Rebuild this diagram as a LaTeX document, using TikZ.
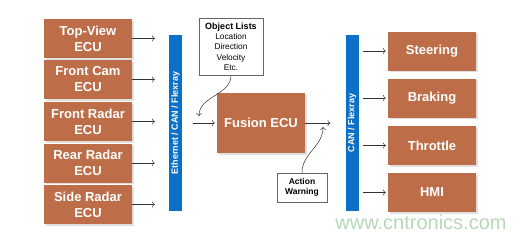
\documentclass[tikz,border=0pt]{standalone}
\usepackage{fontspec}
\setmainfont{Liberation Sans}
\usepackage{tikz}
\usetikzlibrary{positioning, arrows.meta, shadows}
\definecolor{ecubrown}{RGB}{189,110,72}
\definecolor{busblue}{RGB}{12,112,198}
\definecolor{markgreen}{RGB}{182,216,182}

\tikzset{
  ecu/.style={fill=ecubrown, text=white, font=\bfseries\fontsize{13}{16}\selectfont,
    align=center, minimum width=88pt, minimum height=39pt, inner sep=0pt,
    drop shadow={shadow xshift=1.5pt, shadow yshift=-1.5pt, opacity=0.25}},
  bus/.style={fill=busblue, minimum width=13pt, minimum height=176pt, inner sep=0pt},
  busname/.style={text=white, font=\bfseries\fontsize{9}{10}\selectfont, rotate=90},
  note/.style={draw=black!60, fill=white, align=center, inner sep=2pt},
  sig/.style={->, line width=0.5pt, black!80}
}

\begin{document}
\begin{tikzpicture}[x=1pt, y=-1pt]
\useasboundingbox (0,0) rectangle (523,239);
% sensors
\node[ecu] at (88,38.5) (tv) {Top-View\\ECU};
\node[ecu] at (88,79.5) (fc) {Front Cam\\ECU};
\node[ecu] at (88,121.5) (fr) {Front Radar\\ECU};
\node[ecu] at (88,163) (rr) {Rear Radar\\ECU};
\node[ecu] at (88,204.5) (sr) {Side Radar\\ECU};
% buses
\node[bus] at (175.5,123) (eth) {};
\node[busname] at (eth) {Ethernet / CAN / Flexray};
\node[bus] at (352,123) (can) {};
\node[busname] at (can) {CAN / Flexray};
% fusion
\node[ecu, minimum width=88pt, minimum height=60pt] at (261,123) (fus) {Fusion ECU};
\node[note, minimum width=64pt, minimum height=57pt, inner sep=1pt,
  font=\fontsize{8.3}{10.3}\selectfont] at (231,46.5) (obj)
  {{\bfseries\fontsize{9}{10}\selectfont Object Lists}\\Location\\Direction\\Velocity\\Etc.};
\node[note, minimum width=50pt, minimum height=29pt, font=\bfseries\fontsize{8.5}{10}\selectfont]
  at (302,187.5) (act) {Action\\Warning};
% actuators
\node[ecu] at (432,51) (st) {Steering};
\node[ecu] at (432,98) (br) {Braking};
\node[ecu] at (432,145.5) (th) {Throttle};
\node[ecu] at (432,192.5) (hmi) {HMI};
\node[text=markgreen, font=\fontsize{20}{20}\selectfont] at (421,222) (web) {www.cntronics.com};
% connectors
\foreach \s in {tv,fc,fr,rr,sr}
  \draw[sig, shorten >=14pt] (\s.east) -- (\s.east -| eth.west);
\draw[sig, shorten <=11pt, shorten >=2pt] (eth.east |- fus.west) -- (fus.west);
\draw[sig, shorten >=15pt] (fus.east) -- (fus.east -| can.west);
\foreach \a in {st,br,th,hmi}
  \draw[sig, shorten <=4pt, shorten >=2pt] (\a.west -| can.east) -- (\a.west);
\coordinate (objin) at (199,116);
\coordinate (actout) at (323,127);
\draw (obj.south) edge[out=-90,in=90, sig] (objin);
\draw (act.north) edge[out=90,in=-90, sig] (actout);
\end{tikzpicture}
\end{document}
